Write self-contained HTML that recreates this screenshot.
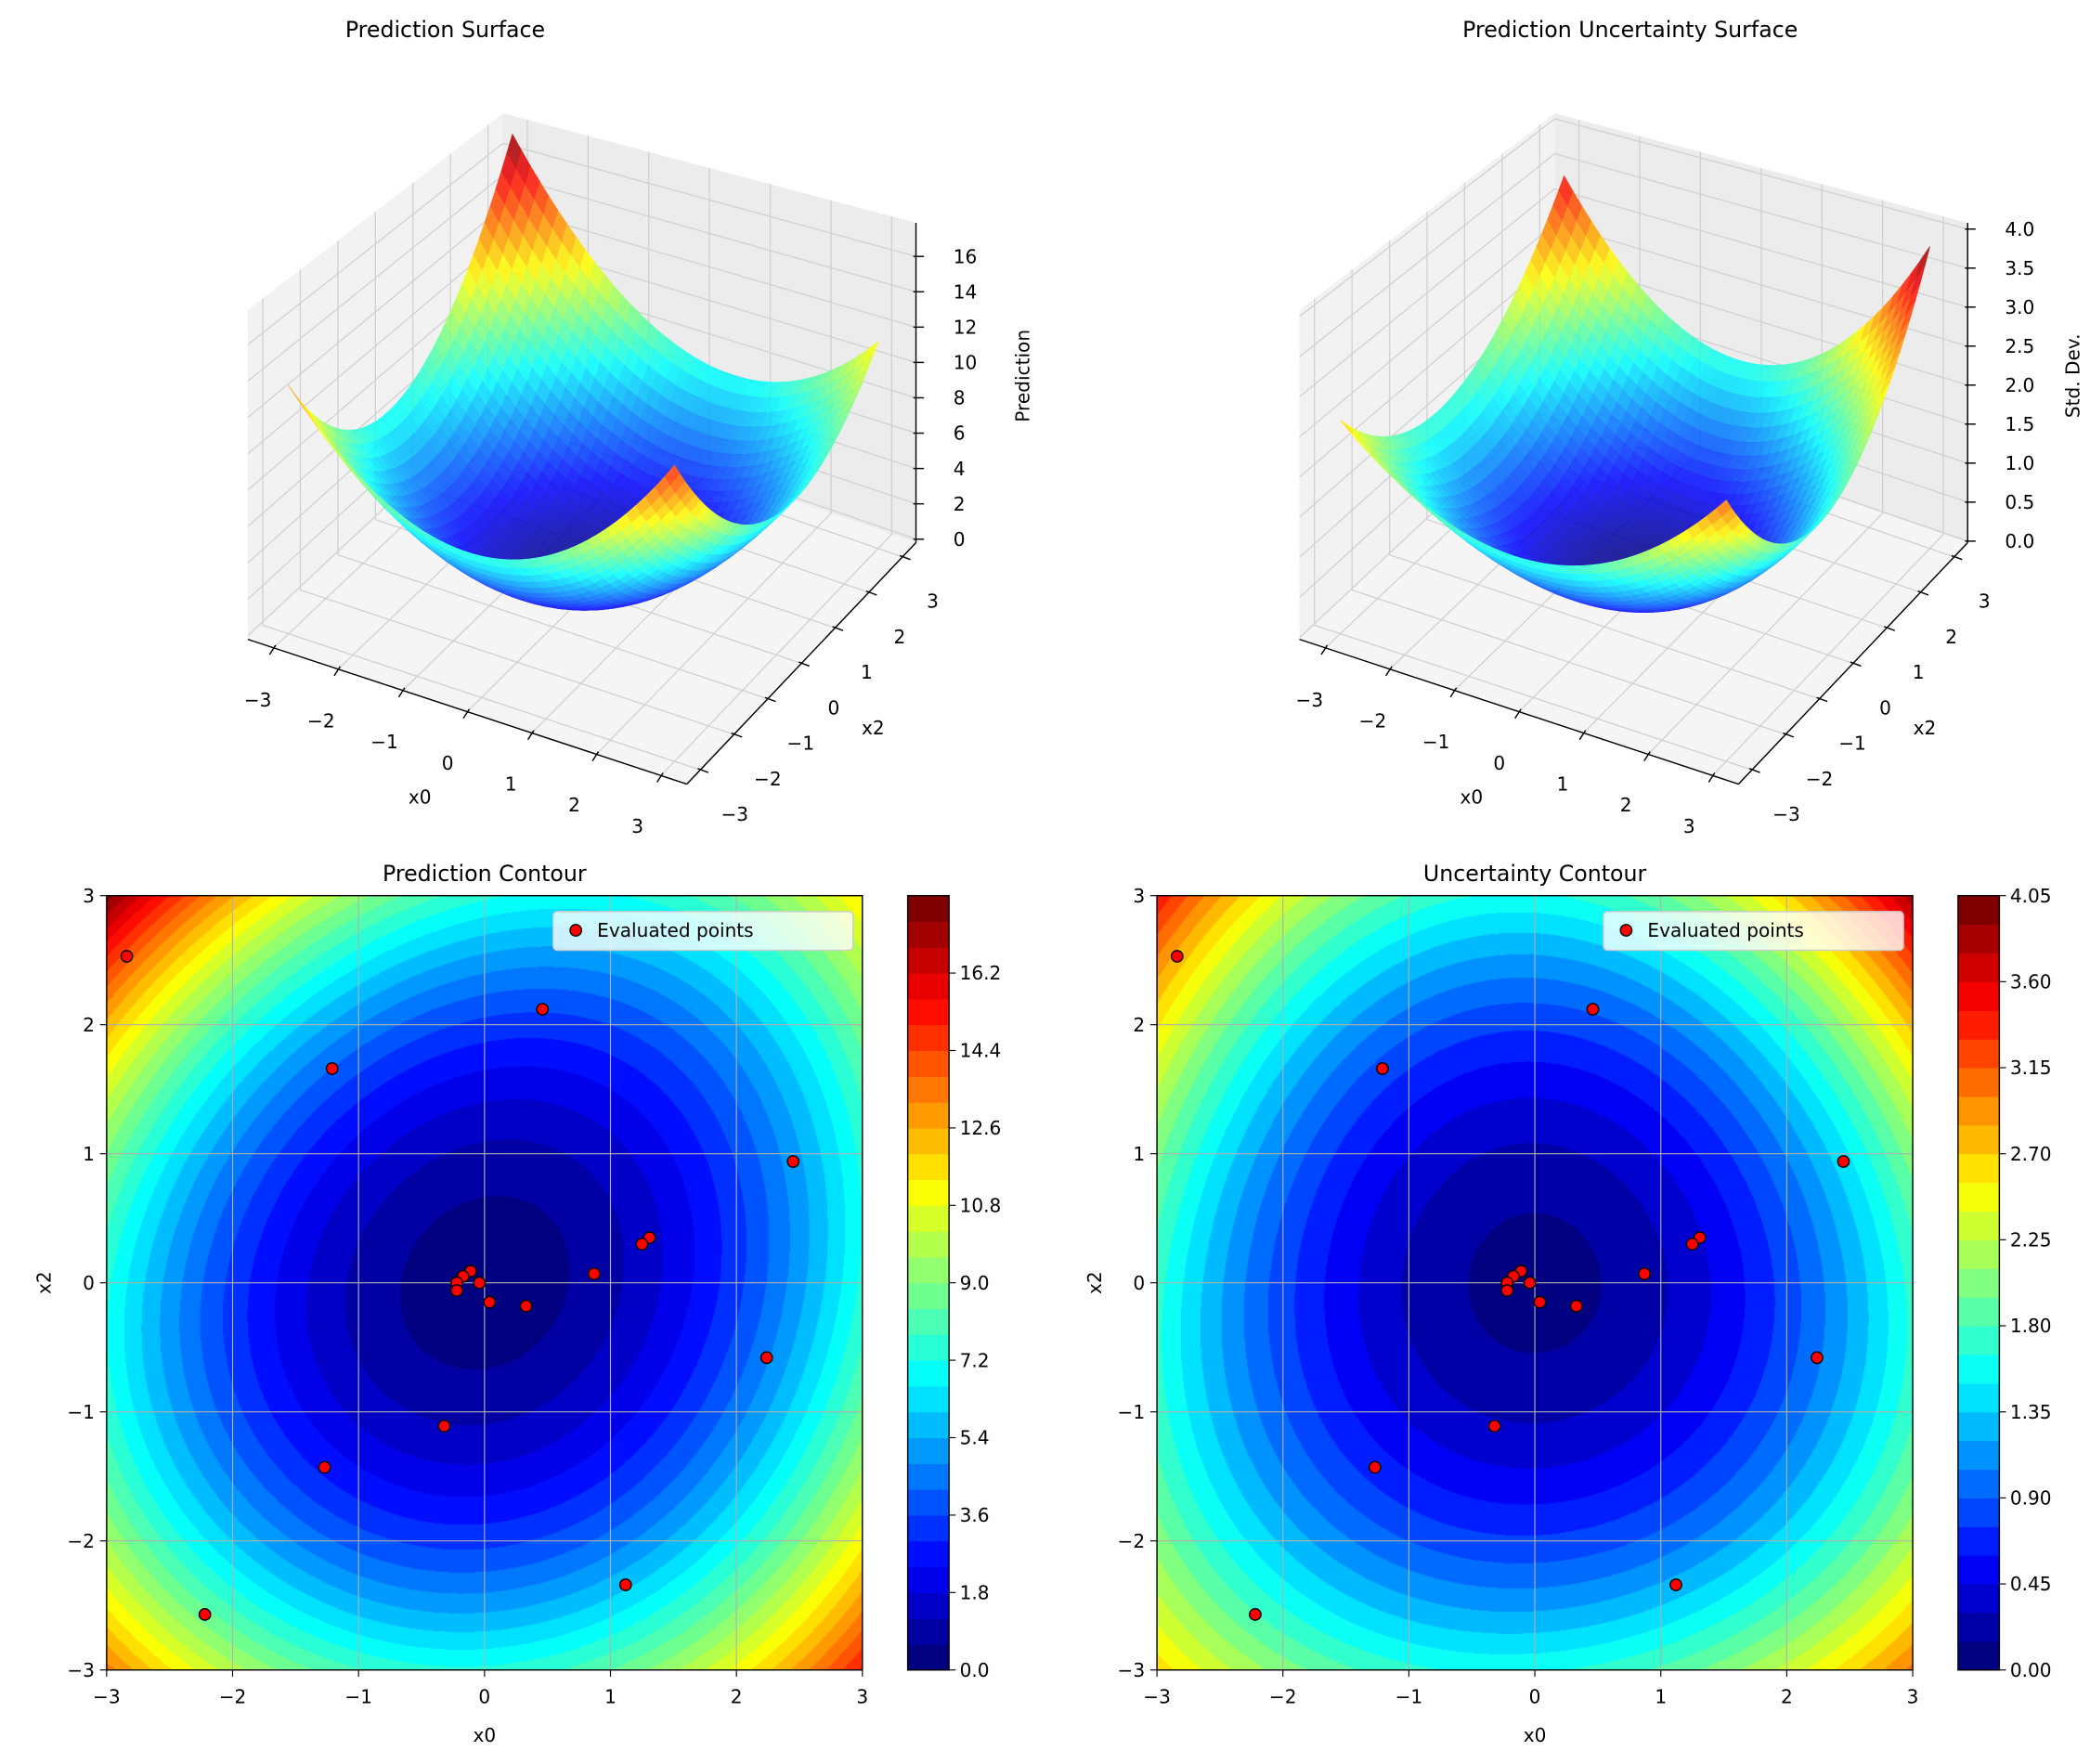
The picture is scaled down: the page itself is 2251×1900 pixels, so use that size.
<!DOCTYPE html>
<html><head><meta charset="utf-8"><style>
html,body{margin:0;padding:0;background:#fff;}
#wrap{position:relative;width:2251px;height:1900px;overflow:hidden;background:#fff;}
canvas{position:absolute;}
svg{position:absolute;left:0;top:0;}
text{font-family:"DejaVu Sans","Liberation Sans",sans-serif;fill:#000;}
</style></head><body>
<div id="wrap">
<canvas id="c1"></canvas><canvas id="c2"></canvas>
<svg id="s" width="2251" height="1900" viewBox="0 0 1568 1323.55" preserveAspectRatio="none" xmlns="http://www.w3.org/2000/svg"></svg>
</div>
<script>
const S=2251/1568;
const NS="http://www.w3.org/2000/svg";
const svg=document.getElementById('s');
function el(tag,attrs,parent,txt){const e=document.createElementNS(NS,tag);for(const k in attrs)e.setAttribute(k,attrs[k]);if(txt!==undefined)e.textContent=txt;(parent||svg).appendChild(e);return e;}
function cl(v){return Math.max(0,Math.min(1,v));}
function jetA(t){return [cl(1.5-Math.abs(4*t-3)),cl(1.5-Math.abs(4*t-2)),cl(1.5-Math.abs(4*t-1))];}
function jet(t){const c=jetA(t);return 'rgb('+Math.round(c[0]*255)+','+Math.round(c[1]*255)+','+Math.round(c[2]*255)+')';}
function f1(x,y){return 0.79*(x*x+y*y)-0.219*x*y+0.005*y*x*x-0.042*x*y*y+0.25;}
function f2(x,y){return 0.18*x*x+0.17*y*y+0.0148*y*x*x+0.0074*x*y*y+0.1;}
function fmtm(v){return (v<0?'\u2212':'')+Math.abs(v);}

function contour(id,x0,fn,step,nb){
  const c=document.getElementById(id);
  const L=x0*S,T=672*S,W=567*S,H=581*S;
  const w=Math.round(W),h=Math.round(H);
  c.width=w;c.height=h;c.style.left=L+'px';c.style.top=T+'px';c.style.width=W+'px';c.style.height=H+'px';
  const ctx=c.getContext('2d');const img=ctx.createImageData(w,h);const d=img.data;
  const cols=[];for(let i=0;i<nb;i++)cols.push(jetA(i/(nb-1)));
  for(let j=0;j<h;j++){const y=3-6*(j+0.5)/h;for(let i=0;i<w;i++){const x=-3+6*(i+0.5)/w;
    let b=Math.floor(fn(x,y)/step);if(b<0)b=0;if(b>nb-1)b=nb-1;const cc=cols[b];const k=(j*w+i)*4;
    d[k]=cc[0]*255;d[k+1]=cc[1]*255;d[k+2]=cc[2]*255;d[k+3]=255;}}
  ctx.putImageData(img,0,0);
}
contour('c1',80,f1,0.6,30);
contour('c2',868,f2,0.15,27);

const pts=[[-2.84,2.53],[-1.21,1.66],[0.46,2.12],[2.45,0.94],[1.31,0.35],[1.25,0.30],[0.87,0.07],[0.33,-0.18],[0.04,-0.15],[-0.04,0.0],[-0.11,0.09],[-0.17,0.05],[-0.22,0.0],[-0.22,-0.06],[2.24,-0.58],[-0.32,-1.11],[-1.27,-1.43],[-2.22,-2.57],[1.12,-2.34]];

function contourAxes(x0,title,cbx,nb,ticks,labels){
  const px=x=>x0+283.5+94.5*x, py=y=>962.5-96.83*y;
  for(let k=-2;k<=2;k++){
    el('line',{x1:px(k),y1:672,x2:px(k),y2:1253,stroke:'#b0b0b0','stroke-width':0.8});
    el('line',{x1:x0,y1:py(k),x2:x0+567,y2:py(k),stroke:'#b0b0b0','stroke-width':0.8});
  }
  for(const p of pts) el('circle',{cx:px(p[0]),cy:py(p[1]),r:4.3,fill:'#ff0000',stroke:'#000','stroke-width':1});
  el('rect',{x:x0,y:672,width:567,height:581,fill:'none',stroke:'#000','stroke-width':1});
  for(let k=-3;k<=3;k++){
    el('line',{x1:px(k),y1:1253,x2:px(k),y2:1258,stroke:'#000','stroke-width':0.8});
    el('text',{x:px(k),y:1278,'font-size':14,'text-anchor':'middle'},null,fmtm(k));
    el('line',{x1:x0-5,y1:py(k),x2:x0,y2:py(k),stroke:'#000','stroke-width':0.8});
    el('text',{x:x0-9,y:py(k)+5,'font-size':14,'text-anchor':'end'},null,fmtm(k));
  }
  el('text',{x:x0+283.5,y:1307,'font-size':14,'text-anchor':'middle'},null,'x0');
  el('text',{x:0,y:0,'font-size':14,'text-anchor':'middle',transform:'translate('+(x0-42)+',962.5) rotate(-90)'},null,'x2');
  el('text',{x:x0+283.5,y:661,'font-size':16.5,'text-anchor':'middle'},null,title);
  el('rect',{x:x0+335,y:684,width:225,height:29,rx:3,fill:'#fff','fill-opacity':0.8,stroke:'#cccccc','stroke-width':1});
  el('circle',{cx:x0+352,cy:698,r:4.3,fill:'#ff0000',stroke:'#000','stroke-width':1});
  el('text',{x:x0+368,y:703,'font-size':14},null,'Evaluated points');
  const bh=581/nb;
  for(let i=0;i<nb;i++) el('rect',{x:cbx,y:1253-(i+1)*bh,width:31,height:bh+0.4,fill:jet(i/(nb-1))});
  el('rect',{x:cbx,y:672,width:31,height:581,fill:'none',stroke:'#000','stroke-width':1});
  for(let i=0;i<ticks.length;i++){const y=1253-ticks[i]*581;
    el('line',{x1:cbx+31,y1:y,x2:cbx+36,y2:y,stroke:'#000','stroke-width':0.8});
    el('text',{x:cbx+39,y:y+5,'font-size':14},null,labels[i]);}
}
{const t=[],l=[];for(let i=0;i<=9;i++){t.push(i*3/30);l.push((i*1.8).toFixed(1));}contourAxes(80,'Prediction Contour',681,30,t,l);}
{const t=[],l=[];for(let i=0;i<=9;i++){t.push(i*3/27);l.push((i*0.45).toFixed(2));}contourAxes(868,'Uncertainty Contour',1469,27,t,l);}

function make3D(off,fn,zmin,zmax,zt,zfmt,zlabel,zlx,title,tx){
  const FL=[185.9,479.7],FR=[515.3,588.3],BR=[687.2,407.2],BL=[377.4,300];
  const HF=[247,264,240,215];
  function P(x,y,z){const u=(x+3.4)/6.8,v=(y+3.4)/6.8;
    const a=(1-u)*(1-v),b=u*(1-v),c=u*v,d=(1-u)*v;
    const X=a*FL[0]+b*FR[0]+c*BR[0]+d*BL[0]+off;
    const Y=a*FL[1]+b*FR[1]+c*BR[1]+d*BL[1];
    const h=a*HF[0]+b*HF[1]+c*HF[2]+d*HF[3];
    return [X,Y-(z-zmin)/(zmax-zmin)*h];}
  const poly=(ps,attrs)=>el('polygon',Object.assign({points:ps.map(p=>p[0].toFixed(2)+','+p[1].toFixed(2)).join(' ')},attrs));
  const m=3.4;
  poly([P(-m,-m,zmin),P(-m,m,zmin),P(-m,m,zmax),P(-m,-m,zmax)],{fill:'#f2f2f2'});
  poly([P(-m,m,zmin),P(m,m,zmin),P(m,m,zmax),P(-m,m,zmax)],{fill:'#ececec'});
  poly([P(-m,-m,zmin),P(m,-m,zmin),P(m,m,zmin),P(-m,m,zmin)],{fill:'#f5f5f5'});
  const gl=(a,b)=>el('line',{x1:a[0],y1:a[1],x2:b[0],y2:b[1],stroke:'#d0d0d0','stroke-width':0.9});
  for(let k=-3;k<=3;k++){
    gl(P(-m,k,zmin),P(-m,k,zmax)); gl(P(k,m,zmin),P(k,m,zmax));
    gl(P(k,-m,zmin),P(k,m,zmin)); gl(P(-m,k,zmin),P(m,k,zmin));
  }
  for(const z of zt){gl(P(-m,-m,z),P(-m,m,z));gl(P(-m,m,z),P(m,m,z));}
  const N=40,g=el('g',{opacity:0.85});const quads=[];let mn=1e9,mx=-1e9;
  for(let i=0;i<=N;i++)for(let j=0;j<=N;j++){const v=fn(-3+6*i/N,-3+6*j/N);mn=Math.min(mn,v);mx=Math.max(mx,v);}
  for(let i=0;i<N;i++)for(let j=0;j<N;j++){
    const xa=-3+6*i/N,xb=-3+6*(i+1)/N,ya=-3+6*j/N,yb=-3+6*(j+1)/N;
    const za=fn(xa,ya),zb=fn(xb,ya),zc=fn(xb,yb),zd=fn(xa,yb);
    quads.push({k:(xa+xb)/2-(ya+yb)/2,p:[P(xa,ya,za),P(xb,ya,zb),P(xb,yb,zc),P(xa,yb,zd)],z:(za+zb+zc+zd)/4});
  }
  quads.sort((a,b)=>a.k-b.k);
  for(const q of quads){const c=jet((q.z-mn)/(mx-mn));
    el('polygon',{points:q.p.map(p=>p[0].toFixed(2)+','+p[1].toFixed(2)).join(' '),fill:c,stroke:c,'stroke-width':0.6},g);}
  const al=(a,b)=>el('line',{x1:a[0],y1:a[1],x2:b[0],y2:b[1],stroke:'#000','stroke-width':1});
  al(P(-m,-m,zmin),P(m,-m,zmin)); al(P(m,-m,zmin),P(m,m,zmin)); al(P(m,m,zmin),P(m,m,zmax));
  for(let k=-3;k<=3;k++){
    const a=P(k,-m,zmin); al([a[0]+1.5,a[1]-2],[a[0]-3,a[1]+5]);
    const t=(k+3)/6;
    el('text',{x:off+193.4+t*(478.3-193.4),y:525+t*(619.7-525)+5,'font-size':14,'text-anchor':'middle'},null,fmtm(k));
    const b=P(m,k,zmin); al([b[0]-2,b[1]-1],[b[0]+6,b[1]+2]);
    el('text',{x:off+551.2+t*(699.7-551.2),y:610.8+t*(451-610.8)+5,'font-size':14,'text-anchor':'middle'},null,fmtm(k));
  }
  for(const z of zt){const a=P(m,m,z); al([a[0]-2,a[1]],[a[0]+6,a[1]]);
    el('text',{x:a[0]+28,y:a[1]+5,'font-size':14},null,zfmt(z));}
  el('text',{x:off+315,y:603,'font-size':14,'text-anchor':'middle'},null,'x0');
  el('text',{x:off+655,y:551,'font-size':14,'text-anchor':'middle'},null,'x2');
  el('text',{x:0,y:0,'font-size':14,'text-anchor':'middle',transform:'translate('+zlx+',282) rotate(-90)'},null,zlabel);
  el('text',{x:tx,y:28,'font-size':16.5,'text-anchor':'middle'},null,title);
}
{const zt=[];for(let z=0;z<=16;z+=2)zt.push(z);
 make3D(0,f1,-0.2,17.9,zt,z=>String(z),'Prediction',772,'Prediction Surface',334);}
{const zt=[];for(let i=0;i<=8;i++)zt.push(i*0.5);
 make3D(789,f2,-0.02,4.08,zt,z=>z.toFixed(1),'Std. Dev.',1560,'Prediction Uncertainty Surface',1223);}
</script>
</body></html>
